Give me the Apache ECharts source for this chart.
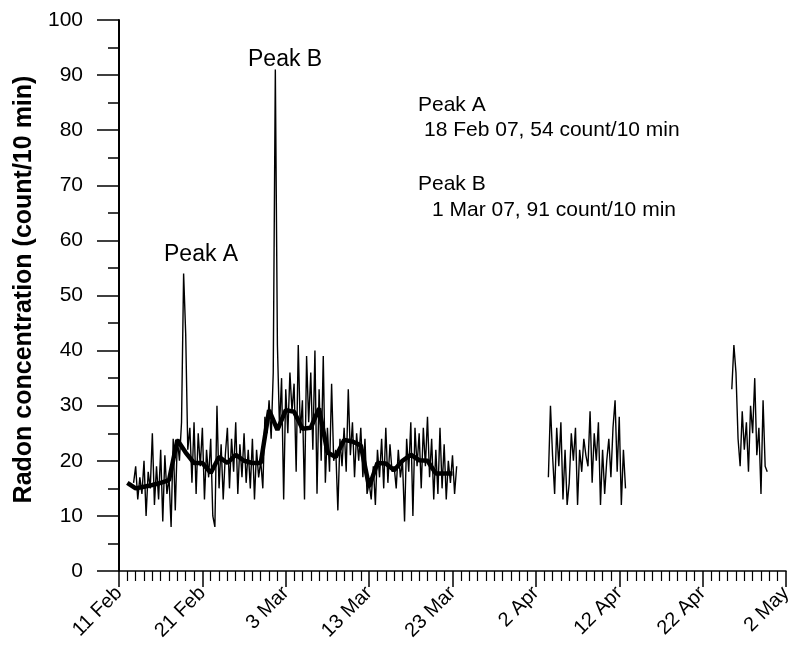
<!DOCTYPE html>
<html>
<head>
<meta charset="utf-8">
<title>Radon concentration</title>
<script src="https://cdn.jsdelivr.net/npm/echarts@6/dist/echarts.min.js"></script>
<style>
  html, body { margin: 0; padding: 0; background: #fff; }
  #chart { width: 789px; height: 654px; }
</style>
</head>
<body>
<div id="chart"></div>
<script>
  // x is counted in days after 11 Feb 2007
  var tickLabels = ['11 Feb', '21 Feb', '3 Mar', '13 Mar', '23 Mar', '2 Apr', '12 Apr', '22 Apr', '2 May']

  // raw readings, one every 6 hours
  var stepDays = 0.25

  var run1Start = 1.75
  var run1 = [
    16,
    19, 13, 17, 14,
    20, 10, 18, 15,
    25, 12, 19, 13,
    22, 9, 21, 14,
    17, 8, 24, 11,
    24, 20, 27, 54,
    43, 22, 26, 16,
    27, 14, 25, 19,
    26, 13, 22, 17,
    24, 10, 8, 30,
    15, 23, 13, 21,
    26, 15, 24, 18,
    27, 14, 23, 17,
    25, 16, 22, 15,
    24, 13, 22, 17,
    20, 15, 28, 25,
    31, 24, 36, 91,
    41, 26, 35, 13,
    33, 25, 36, 29,
    34, 18, 41, 25,
    31, 13, 39, 27,
    36, 22, 40, 14,
    33, 20, 39, 16,
    26, 18, 34, 20,
    22, 11, 24, 19,
    26, 18, 33, 21,
    27, 17, 25, 20,
    26, 17, 24, 14,
    16, 13, 19, 12,
    22, 17, 24, 15,
    26, 16, 23, 18,
    19, 15, 22, 17,
    20, 9, 24, 18,
    27, 10, 26, 19,
    25, 15, 26, 19,
    28, 17, 24, 13,
    22, 14, 26, 15,
    23, 13, 20, 16,
    21, 14, 19
  ]

  var run2Start = 51.5
  var run2 = [
    17, 30, 21, 14, 26, 19, 27, 13, 22, 12,
    16, 25, 20, 26, 12, 22, 18, 24, 21, 19,
    29, 16, 25, 20, 27, 12, 22, 14, 20, 24,
    17, 26, 31, 18, 28, 12, 22, 15
  ]

  var run3Start = 73.5
  var run3 = [33, 41, 36, 24, 19, 29, 22, 27, 18, 30, 25, 35, 21, 26, 14, 31, 19, 18]

  // daily running mean (thick line)
  var meanStart = 1
  var meanValues = [
    16, 15, 15.3, 15.6, 16, 16.5, 23.8, 21.5, 19.6, 19.6,
    17.8, 20.7, 19.6, 21.1, 20, 19.6, 19.6, 29.2, 25.6, 29.2,
    28.9, 25.8, 26, 29.5, 21.5, 20.7, 23.8, 23.5, 22.8, 15.3,
    19.6, 19.5, 18.3, 20, 21.1, 20.1, 20, 17.7, 17.7, 17.7
  ]

  function toPoints(start, step, values) {
    return values.map(function (v, i) {
      return [start + i * step, v]
    })
  }

  var font = 'Liberation Sans, Arial, Helvetica, sans-serif'

  function rawSeries(start, values) {
    return {
      type: 'line',
      data: toPoints(start, stepDays, values),
      symbol: 'none',
      lineStyle: { color: '#000', width: 1.4 },
      z: 2
    }
  }

  var chart = echarts.init(document.getElementById('chart'))
  chart.setOption({
    animation: false,
    backgroundColor: '#fff',
    grid: {
      left: 119,
      right: 3,
      top: 20,
      bottom: 83,
      containLabel: false,
      outerBoundsMode: 'none'
    },
    xAxis: {
      type: 'value',
      min: 0,
      max: 80,
      interval: 10,
      axisLine: { lineStyle: { color: '#000', width: 1.5 } },
      axisTick: { length: 16, lineStyle: { color: '#000', width: 1.5 } },
      minorTick: { show: true, splitNumber: 10, length: 10, lineStyle: { color: '#000', width: 1.2 } },
      splitLine: { show: false },
      axisLabel: {
        rotate: 45,
        margin: 19,
        color: '#000',
        fontSize: 20,
        fontFamily: font,
        showMinLabel: true,
        showMaxLabel: true,
        formatter: function (v) {
          return tickLabels[Math.round(v / 10)]
        }
      }
    },
    yAxis: {
      type: 'value',
      min: 0,
      max: 100,
      interval: 10,
      name: 'Radon concentration (count/10 min)',
      nameLocation: 'middle',
      nameGap: 82,
      nameTextStyle: { color: '#000', fontSize: 25, fontWeight: 'bold', fontFamily: font, padding: [0, 0, 0, 12] },
      axisLine: { show: true, lineStyle: { color: '#000', width: 2 } },
      axisTick: { show: true, length: 22, lineStyle: { color: '#000', width: 1.5 } },
      minorTick: { show: true, splitNumber: 2, length: 11, lineStyle: { color: '#000', width: 1.5 } },
      splitLine: { show: false },
      axisLabel: { margin: 36, color: '#000', fontSize: 21, fontFamily: font }
    },
    graphic: [
      { type: 'text', left: 164, top: 243, style: { text: 'Peak A', fill: '#000', fontSize: 23, fontFamily: font } },
      { type: 'text', left: 248, top: 48, style: { text: 'Peak B', fill: '#000', fontSize: 23, fontFamily: font } },
      { type: 'text', left: 418, top: 95, style: { text: 'Peak A', fill: '#000', fontSize: 21, fontFamily: font } },
      { type: 'text', left: 424, top: 120, style: { text: '18 Feb 07, 54 count/10 min', fill: '#000', fontSize: 21, fontFamily: font } },
      { type: 'text', left: 418, top: 174, style: { text: 'Peak B', fill: '#000', fontSize: 21, fontFamily: font } },
      { type: 'text', left: 432, top: 200, style: { text: '1 Mar 07, 91 count/10 min', fill: '#000', fontSize: 21, fontFamily: font } }
    ],
    series: [
      rawSeries(run1Start, run1),
      rawSeries(run2Start, run2),
      rawSeries(run3Start, run3),
      {
        type: 'line',
        data: toPoints(meanStart, 1, meanValues),
        symbol: 'none',
        lineStyle: { color: '#000', width: 4.5 },
        z: 3
      }
    ]
  })
</script>
</body>
</html>
